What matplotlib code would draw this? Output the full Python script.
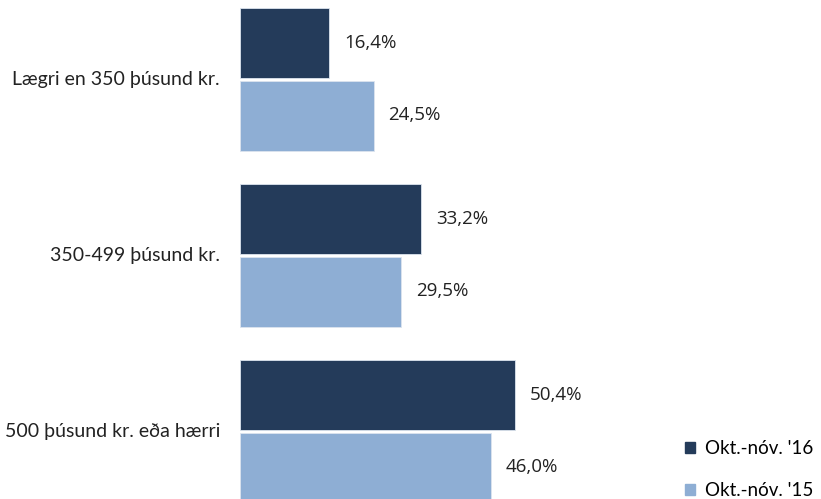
import matplotlib.pyplot as plt
from matplotlib.patches import Patch

# gögn
flokkar = ['Lægri en 350 þúsund kr.', '350-499 þúsund kr.', '500 þúsund kr. eða hærri']
okt_16 = [16.4, 33.2, 50.4]
okt_15 = [24.5, 29.5, 46.0]
heiti = ["Okt.-nóv. '16", "Okt.-nóv. '15"]

dokkur = '#243b5a'
ljos = '#8eaed4'

fig = plt.figure(figsize=(8.21, 4.99), dpi=100)
ax = fig.add_axes([240 / 821, 0, 581 / 821, 1])

h = 70 / 176
off = 36.5 / 176
y = list(range(len(flokkar)))
ax.barh([i - off for i in y], okt_16, height=h, color=dokkur, edgecolor='#dce4ee', linewidth=0.6)
ax.barh([i + off for i in y], okt_15, height=h, color=ljos, edgecolor='#dce4ee', linewidth=0.6)

ax.set_xlim(0, 581 / 5.45)
ax.set_ylim((499 - 79) / 176, -79 / 176)
ax.axis('off')

for i in y:
    ax.text(okt_16[i] + 15 / 5.45, i - off, f'{okt_16[i]:.1f}%'.replace('.', ','),
            va='center', ha='left', fontsize=13.5, family='Open Sans', color='#222222')
    ax.text(okt_15[i] + 15 / 5.45, i + off, f'{okt_15[i]:.1f}%'.replace('.', ','),
            va='center', ha='left', fontsize=13.5, family='Open Sans', color='#222222')
    fig.text(220 / 821, 1 - (79 + 176 * i) / 499, flokkar[i], ha='right', va='center',
             fontsize=14, family='Lato', color='#222222')

handles = [Patch(color=dokkur), Patch(color=ljos)]
fig.legend(handles, heiti, loc='upper left', bbox_to_anchor=(670 / 821, 1 - 425 / 499),
           frameon=False, prop={'family': 'Lato', 'size': 13.5}, handlelength=0.55,
           handleheight=0.55, handletextpad=0.5, labelspacing=1.35, borderpad=0.3)

fig.savefig('out.png', dpi=100)
